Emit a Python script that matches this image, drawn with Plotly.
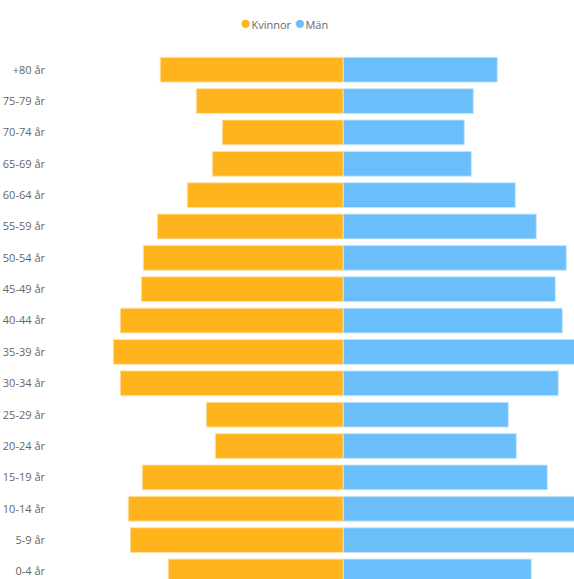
import plotly.graph_objects as go

# Age groups, bottom to top
age_groups = ["0-4 år", "5-9 år", "10-14 år", "15-19 år", "20-24 år", "25-29 år",
              "30-34 år", "35-39 år", "40-44 år", "45-49 år", "50-54 år", "55-59 år",
              "60-64 år", "65-69 år", "70-74 år", "75-79 år", "+80 år"]

kvinnor = [175, 213, 215, 201, 128, 137, 223, 230, 223, 202, 200, 186, 156, 131, 121, 147, 183]
man = [188, 236, 238, 204, 173, 165, 215, 242, 219, 212, 223, 193, 172, 128, 121, 130, 154]

series_names = ["Kvinnor", "Män"]
c_kv = "#FFB41E"
c_man = "#6ABEF9"

fig = go.Figure()
fig.add_trace(go.Bar(
    y=age_groups, x=[-v for v in kvinnor], orientation="h", name=series_names[0],
    marker=dict(color=c_kv, line=dict(color="rgba(255,225,170,0.9)", width=1)),
    showlegend=False, hoverinfo="skip"))
fig.add_trace(go.Bar(
    y=age_groups, x=man, orientation="h", name=series_names[1],
    marker=dict(color=c_man, line=dict(color="rgba(200,230,252,0.9)", width=1)),
    showlegend=False, hoverinfo="skip"))

legend_text = (f"<span style='color:{c_kv};font-size:19px'>●</span>{series_names[0]} "
               f"<span style='color:{c_man};font-size:19px'>●</span>{series_names[1]}")

W, H = 574, 579
L, T = 52, 54
fig.update_layout(
    width=W, height=H,
    margin=dict(l=L, r=0, t=T, b=0),
    barmode="relative",
    bargap=0.21,
    plot_bgcolor="white", paper_bgcolor="white",
    font=dict(family="Open Sans, sans-serif", size=11, color="#666666"),
    showlegend=False,
    xaxis=dict(range=[-291.3, 230.7], showgrid=False, zeroline=False,
               showticklabels=False, showline=False, fixedrange=True),
    yaxis=dict(categoryorder="array", categoryarray=age_groups,
               range=[-0.24, 16.5], showgrid=False, zeroline=False,
               showline=False, ticks="", ticklabelstandoff=6, fixedrange=True),
    annotations=[dict(text=legend_text, xref="paper", yref="paper",
                      x=(283.5 - L) / (W - L), y=1 + (T - 21.5) / (H - T),
                      xanchor="center", yanchor="middle",
                      showarrow=False, font=dict(size=11, color="#666666"))],
)

fig.write_html("out.html", config={"displayModeBar": False},
               post_script="document.body.style.margin='0';document.body.style.overflow='hidden';")
